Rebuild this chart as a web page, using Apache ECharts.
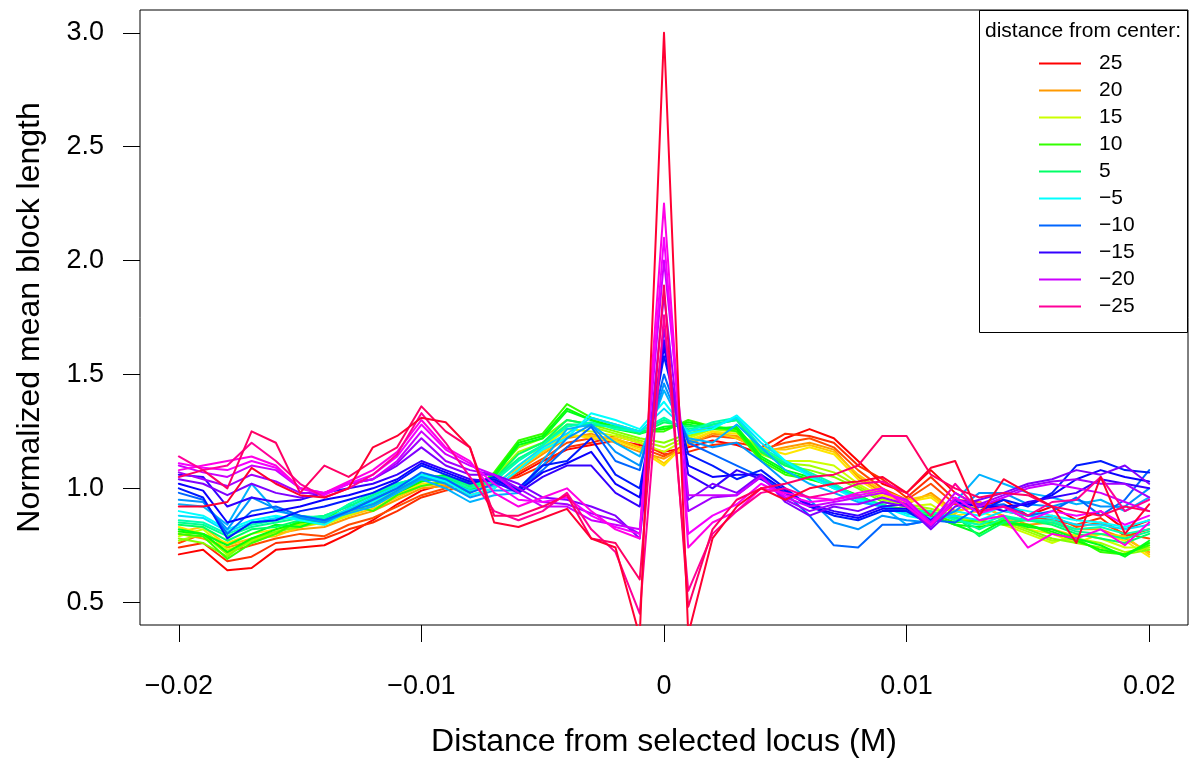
<!DOCTYPE html>
<html>
<head>
<meta charset="utf-8">
<script src="https://cdn.jsdelivr.net/npm/echarts@6/dist/echarts.min.js"></script>
<style>
html,body{margin:0;padding:0;background:#fff;}
#chart{width:1191px;height:760px;}
</style>
</head>
<body>
<div id="chart"></div>
<script>
// x positions (M)
const xValues = [-0.020,-0.019,-0.018,-0.017,-0.016,-0.015,-0.014,-0.013,-0.012,-0.011,
  -0.010,-0.009,-0.008,-0.007,-0.006,-0.005,-0.004,-0.003,-0.002,-0.001,
  0.000,0.001,0.002,0.003,0.004,0.005,0.006,0.007,0.008,0.009,
  0.010,0.011,0.012,0.013,0.014,0.015,0.016,0.017,0.018,0.019,0.020];

const xTicks = [-0.02,-0.01,0,0.01,0.02];
const yTicks = [0.5,1.0,1.5,2.0,2.5,3.0];
const legendLabels = ['25','20','15','10','5','\u22125','\u221210','\u221215','\u221220','\u221225'];

// series values (normalized mean block length)
const d25 = [0.71,0.73,0.64,0.65,0.73,0.74,0.75,0.80,0.86,0.93,0.99,1.02,1.00,1.02,1.06,1.12,1.17,1.19,1.21,1.19,1.16,1.18,1.21,1.19,1.15,1.22,1.26,1.22,1.12,1.02,0.98,1.08,0.98,0.92,0.95,0.88,0.92,0.86,0.90,0.82,0.86];
const d23 = [0.74,0.76,0.68,0.70,0.76,0.77,0.78,0.82,0.85,0.90,0.96,0.99,1.01,1.03,1.05,1.10,1.18,1.20,1.23,1.20,1.15,1.16,1.19,1.20,1.18,1.24,1.23,1.20,1.10,1.04,0.96,1.05,0.95,0.94,0.90,0.88,0.86,0.84,0.87,0.79,0.82];
const d22 = [0.76,0.80,0.72,0.75,0.78,0.80,0.79,0.84,0.87,0.92,0.97,1.00,1.03,1.01,1.07,1.13,1.20,1.22,1.21,1.18,1.14,1.20,1.23,1.22,1.17,1.20,1.22,1.18,1.08,1.00,0.95,1.02,0.93,0.90,0.92,0.86,0.88,0.83,0.85,0.80,0.78];
const d20 = [0.80,0.78,0.74,0.77,0.80,0.82,0.83,0.87,0.90,0.95,1.00,1.01,0.97,1.00,1.08,1.15,1.22,1.24,1.20,1.16,1.13,1.19,1.24,1.23,1.16,1.18,1.20,1.17,1.05,0.98,0.93,0.98,0.90,0.92,0.88,0.84,0.85,0.82,0.82,0.78,0.72];
const d18 = [0.81,0.83,0.75,0.78,0.79,0.83,0.85,0.88,0.91,0.96,1.01,1.02,0.99,1.02,1.09,1.16,1.23,1.23,1.22,1.18,1.11,1.20,1.25,1.22,1.17,1.17,1.19,1.16,1.06,0.99,0.95,0.97,0.89,0.94,0.87,0.83,0.82,0.79,0.80,0.79,0.71];
const d17 = [0.83,0.80,0.76,0.80,0.82,0.84,0.86,0.89,0.92,0.97,1.02,1.03,1.00,1.01,1.10,1.17,1.24,1.22,1.21,1.17,1.10,1.21,1.25,1.24,1.18,1.15,1.18,1.15,1.04,0.97,0.94,0.96,0.88,0.90,0.86,0.82,0.80,0.76,0.80,0.77,0.70];
const d15 = [0.79,0.82,0.73,0.76,0.80,0.85,0.84,0.88,0.93,0.98,1.03,1.05,1.02,1.04,1.13,1.18,1.26,1.25,1.23,1.20,1.16,1.22,1.26,1.25,1.17,1.12,1.12,1.10,1.02,0.96,0.92,0.93,0.86,0.86,0.84,0.80,0.76,0.80,0.78,0.74,0.74];
const d13 = [0.77,0.80,0.71,0.77,0.81,0.84,0.85,0.89,0.94,0.99,1.04,1.04,1.01,1.05,1.16,1.20,1.28,1.27,1.24,1.21,1.18,1.23,1.26,1.25,1.15,1.11,1.10,1.07,1.01,0.95,0.93,0.91,0.88,0.85,0.85,0.81,0.77,0.78,0.76,0.72,0.74];
const d12 = [0.78,0.76,0.70,0.78,0.81,0.83,0.86,0.90,0.95,1.00,1.05,1.04,1.00,1.06,1.18,1.22,1.30,1.28,1.25,1.22,1.20,1.24,1.27,1.26,1.16,1.10,1.08,1.05,1.00,0.94,0.92,0.90,0.87,0.84,0.86,0.82,0.78,0.76,0.74,0.71,0.73];
const d10 = [0.80,0.79,0.69,0.76,0.80,0.86,0.86,0.93,0.90,0.97,1.01,1.03,0.98,1.07,1.21,1.24,1.37,1.31,1.28,1.25,1.25,1.30,1.27,1.25,1.12,1.06,1.04,1.02,0.96,0.92,0.91,0.89,0.85,0.86,0.84,0.84,0.80,0.78,0.72,0.71,0.75];
const d8  = [0.81,0.80,0.72,0.78,0.82,0.85,0.86,0.91,0.93,0.98,1.03,1.05,0.99,1.06,1.20,1.23,1.35,1.30,1.27,1.25,1.26,1.29,1.27,1.26,1.13,1.07,1.04,1.01,0.97,0.92,0.90,0.88,0.84,0.83,0.85,0.84,0.81,0.77,0.73,0.71,0.76];
const d7  = [0.82,0.80,0.75,0.80,0.84,0.83,0.87,0.90,0.96,1.00,1.04,1.06,1.01,1.05,1.19,1.22,1.34,1.30,1.26,1.24,1.27,1.28,1.26,1.27,1.14,1.08,1.05,1.00,0.97,0.92,0.90,0.88,0.84,0.80,0.86,0.83,0.82,0.78,0.75,0.70,0.77];
const d5  = [0.84,0.83,0.77,0.82,0.83,0.86,0.88,0.92,0.97,1.01,1.06,1.05,1.03,1.04,1.15,1.20,1.30,1.28,1.27,1.24,1.29,1.27,1.28,1.30,1.16,1.10,1.06,1.01,0.95,0.93,0.89,0.87,0.88,0.79,0.85,0.86,0.84,0.80,0.78,0.76,0.80];
const d3  = [0.85,0.84,0.79,0.83,0.85,0.87,0.88,0.92,0.97,1.02,1.05,1.05,1.01,1.04,1.13,1.19,1.28,1.28,1.27,1.25,1.30,1.26,1.28,1.30,1.17,1.11,1.06,1.01,0.96,0.93,0.89,0.89,0.87,0.82,0.87,0.86,0.85,0.81,0.80,0.78,0.81];
const d2  = [0.86,0.85,0.80,0.84,0.86,0.88,0.87,0.93,0.98,1.02,1.05,1.04,1.00,1.03,1.12,1.19,1.27,1.29,1.26,1.25,1.31,1.25,1.29,1.31,1.18,1.12,1.07,1.02,0.96,0.92,0.90,0.90,0.86,0.84,0.88,0.86,0.86,0.82,0.83,0.80,0.82];
const dm3  = [0.88,0.87,0.81,0.85,0.87,0.87,0.86,0.91,0.96,1.01,1.05,1.03,0.99,1.01,1.10,1.18,1.24,1.31,1.28,1.25,1.35,1.25,1.27,1.31,1.20,1.12,1.06,1.01,0.95,0.92,0.89,0.87,0.88,0.86,0.90,0.88,0.87,0.84,0.84,0.82,0.84];
const dm5  = [0.90,0.88,0.82,0.86,0.88,0.86,0.84,0.90,0.94,1.00,1.06,1.03,0.97,1.00,1.08,1.17,1.22,1.33,1.30,1.26,1.38,1.24,1.26,1.32,1.22,1.12,1.05,1.00,0.95,0.92,0.88,0.86,0.90,0.88,0.92,0.90,0.88,0.86,0.85,0.83,0.86];
const dm7  = [0.93,0.92,0.84,1.02,0.90,0.88,0.86,0.89,0.92,0.98,1.04,1.00,0.94,0.97,0.98,1.12,1.26,1.28,1.20,1.14,1.43,1.22,1.20,1.28,1.18,1.08,1.02,0.98,0.94,0.92,0.84,0.86,0.94,1.06,1.02,0.98,0.96,0.93,0.95,0.90,0.96];
const dm8  = [0.95,0.94,0.82,0.96,0.91,0.87,0.85,0.90,0.93,0.99,1.05,1.02,0.96,0.99,0.99,1.10,1.22,1.28,1.16,1.10,1.46,1.21,1.18,1.20,1.12,1.03,0.95,0.85,0.82,0.88,0.86,0.85,0.90,0.98,0.98,0.93,0.92,0.95,0.92,0.92,1.00];
const dm10 = [0.98,0.95,0.80,0.90,0.92,0.88,0.86,0.90,0.95,1.00,1.07,1.04,0.98,1.02,1.00,1.08,1.18,1.27,1.12,1.08,1.50,1.20,1.15,1.10,1.05,0.98,0.88,0.75,0.74,0.84,0.84,0.86,0.85,0.92,0.93,0.88,0.90,0.96,0.88,0.95,1.08];
const dm12 = [1.00,0.96,0.78,0.85,0.86,0.90,0.92,0.95,0.98,1.03,1.10,1.06,1.02,1.05,1.00,1.10,1.12,1.22,1.06,1.00,1.58,1.15,1.10,1.04,1.08,1.00,0.92,0.88,0.86,0.90,0.90,0.84,0.94,0.90,0.95,0.92,0.98,1.10,1.12,1.08,1.07];
const dm13 = [1.02,0.99,0.85,0.88,0.90,0.92,0.95,0.97,1.00,1.04,1.11,1.07,1.03,1.04,0.99,1.07,1.11,1.16,1.02,0.96,1.62,1.10,1.05,1.06,1.06,0.99,0.92,0.89,0.87,0.91,0.91,0.85,0.94,0.92,0.92,0.93,0.97,1.04,1.08,1.05,1.03];
const dm15 = [1.06,1.05,0.92,0.96,0.94,0.95,0.98,1.00,1.02,1.06,1.12,1.08,1.04,1.03,0.98,1.05,1.10,1.10,0.98,0.92,1.65,1.06,1.00,1.08,1.04,0.98,0.93,0.90,0.88,0.92,0.93,0.86,0.95,0.93,0.90,0.94,0.96,0.98,1.04,1.02,1.00];
const dm17 = [1.04,1.02,0.97,1.02,0.98,0.96,0.98,1.02,1.04,1.10,1.18,1.10,1.06,1.06,1.02,0.96,0.95,0.92,0.88,0.78,1.70,0.95,1.02,0.98,1.06,0.94,0.88,0.92,0.90,0.94,0.92,0.82,0.92,0.95,0.98,1.02,1.04,1.08,1.06,1.10,1.02];
const dm18 = [1.07,1.04,1.01,1.06,1.03,0.98,0.98,1.02,1.04,1.11,1.22,1.12,1.08,1.06,1.00,0.94,0.93,0.89,0.86,0.80,1.85,0.90,0.96,0.97,1.05,0.95,0.90,0.93,0.93,0.96,0.93,0.83,0.95,0.93,0.97,1.01,1.03,1.04,1.02,1.02,0.96];
const dm20 = [1.10,1.07,1.05,1.10,1.08,1.00,0.98,1.02,1.04,1.12,1.25,1.15,1.10,1.06,0.98,0.92,0.92,0.86,0.84,0.82,2.00,0.97,0.97,0.97,1.05,0.96,0.92,0.94,0.96,0.98,0.95,0.85,0.98,0.92,0.96,1.00,1.02,1.00,0.98,0.94,0.90];
const dm21 = [1.11,1.09,1.08,1.12,1.09,1.00,0.97,1.02,1.06,1.14,1.28,1.17,1.11,1.02,0.95,0.94,0.96,0.88,0.83,0.80,2.10,0.80,0.88,0.93,1.02,0.97,0.94,0.95,0.97,0.99,0.94,0.84,0.96,0.89,0.92,0.86,0.90,0.88,0.90,0.84,0.88];
const dm22 = [1.08,1.10,1.12,1.14,1.10,1.00,0.98,1.03,1.08,1.16,1.30,1.18,1.12,0.98,0.92,0.96,1.00,0.90,0.82,0.78,2.25,0.74,0.85,0.90,1.00,0.98,0.96,0.95,0.98,1.00,0.92,0.84,0.94,0.86,0.88,0.74,0.80,0.78,0.82,0.75,0.85];
const dm25 = [1.14,1.08,1.10,1.20,1.12,1.02,0.96,1.00,1.06,1.15,1.33,1.20,1.05,0.90,0.86,0.90,0.98,0.82,0.72,0.45,1.76,0.55,0.80,0.90,0.98,1.00,0.96,0.98,1.02,1.03,0.98,0.88,1.02,0.90,0.92,0.88,0.94,0.95,1.05,0.90,0.95];
const dm24 = [1.05,1.08,1.00,1.25,1.20,0.98,1.10,1.05,1.12,1.18,1.36,1.25,1.18,0.88,0.88,0.92,0.97,0.78,0.76,0.60,1.89,0.48,0.82,0.95,1.00,1.02,1.05,1.06,1.10,1.23,1.23,1.06,1.00,0.96,0.98,0.97,0.92,0.90,0.88,0.92,0.90];
const dm23 = [0.92,0.92,0.94,1.09,1.02,0.97,0.96,1.00,1.18,1.23,1.31,1.29,1.18,0.85,0.83,0.87,0.91,0.78,0.74,0.35,3.00,0.36,0.78,0.92,1.00,0.95,1.00,1.02,1.03,1.05,0.98,1.09,1.12,0.88,1.04,0.98,0.92,0.76,1.05,0.80,0.93];

const lineDefs = [
  ['25', d25, '#FF0000'], ['23', d23, '#FF2E00'], ['22', d22, '#FF4D00'], ['20', d20, '#FF9900'],
  ['18', d18, '#FFC800'], ['17', d17, '#FFE600'], ['15', d15, '#CCFF00'], ['13', d13, '#A3FF00'],
  ['12', d12, '#80FF00'], ['10', d10, '#33FF00'], ['8', d8, '#0AFF00'], ['7', d7, '#00FF19'],
  ['5', d5, '#00FF66'], ['3', d3, '#00FF8F'], ['2', d2, '#00FFB2'],
  ['\u22123', dm3, '#00E0FF'], ['\u22125', dm5, '#00FFFF'], ['\u22127', dm7, '#00B3FF'], ['\u22128', dm8, '#0094FF'],
  ['\u221210', dm10, '#0066FF'], ['\u221212', dm12, '#001AFF'], ['\u221213', dm13, '#0A00FF'], ['\u221215', dm15, '#3300FF'],
  ['\u221217', dm17, '#8000FF'], ['\u221218', dm18, '#A300FF'], ['\u221220', dm20, '#CC00FF'], ['\u221221', dm21, '#F500FF'],
  ['\u221222', dm22, '#FF00E6'], ['\u221225', dm25, '#FF0099'], ['\u221224', dm24, '#FF0066'], ['\u221223', dm23, '#FF0033']
];

const FONT = '"Liberation Sans", Arial, Helvetica, sans-serif';

const series = lineDefs.map(([name, vals, color]) => ({
  name: name,
  type: 'line',
  data: vals.map((v, i) => [xValues[i], v]),
  showSymbol: false,
  symbol: 'none',
  clip: true,
  animation: false,
  color: color,
  lineStyle: { color: color, width: 2, join: 'round', cap: 'round' },
  emphasis: { disabled: true }
}));

const chart = echarts.init(document.getElementById('chart'), null, { renderer: 'canvas' });
chart.setOption({
  backgroundColor: '#ffffff',
  animation: false,
  textStyle: { fontFamily: FONT, color: '#000' },
  grid: { left: 140, top: 10, width: 1048, height: 615, show: true, borderColor: '#000', borderWidth: 1,
    backgroundColor: 'transparent', containLabel: false, outerBoundsMode: 'none' },
  xAxis: {
    type: 'value', min: -0.0216, max: 0.0216,
    name: 'Distance from selected locus (M)', nameLocation: 'middle', nameGap: 101,
    nameTextStyle: { fontSize: 32, fontFamily: FONT, color: '#000' },
    axisLine: { show: false, onZero: false },
    splitLine: { show: false },
    axisTick: { show: true, customValues: xTicks, length: 17, inside: false, lineStyle: { color: '#000', width: 1 } },
    axisLabel: { show: true, customValues: xTicks, margin: 48, fontSize: 27, fontFamily: FONT, color: '#000',
      formatter: v => (Math.abs(v) < 1e-12 ? '0' : String(+v.toFixed(3)).replace('-', '\u2212')) }
  },
  yAxis: {
    type: 'value', min: 0.4, max: 3.1,
    name: 'Normalized mean block length', nameLocation: 'middle', nameGap: 94,
    nameTextStyle: { fontSize: 32, fontFamily: FONT, color: '#000' },
    axisLine: { show: false, onZero: false },
    splitLine: { show: false },
    axisTick: { show: true, customValues: yTicks, length: 17, inside: false, lineStyle: { color: '#000', width: 1 } },
    axisLabel: { show: true, customValues: yTicks, margin: 36, fontSize: 27, fontFamily: FONT, color: '#000',
      formatter: v => v.toFixed(1) }
  },
  legend: {
    data: legendLabels,
    orient: 'vertical',
    left: 1039, top: 53,
    padding: 0,
    icon: 'rect',
    itemWidth: 42, itemHeight: 2, itemGap: 6,
    selectedMode: false,
    textStyle: { fontSize: 21, lineHeight: 21, fontFamily: FONT, color: '#000', padding: [0, 0, 0, 13] }
  },
  graphic: [
    { type: 'rect', z: 100, silent: true, shape: { x: 979.5, y: 10.5, width: 208, height: 322 }, style: { fill: 'none', stroke: '#000', lineWidth: 1 } },
    { type: 'text', z: 100, silent: true, x: 1083, y: 31, style: { text: 'distance from center:', fontSize: 21, fontFamily: FONT, fill: '#000', align: 'center', verticalAlign: 'middle' } }
  ],
  series: series
});
</script>
</body>
</html>
